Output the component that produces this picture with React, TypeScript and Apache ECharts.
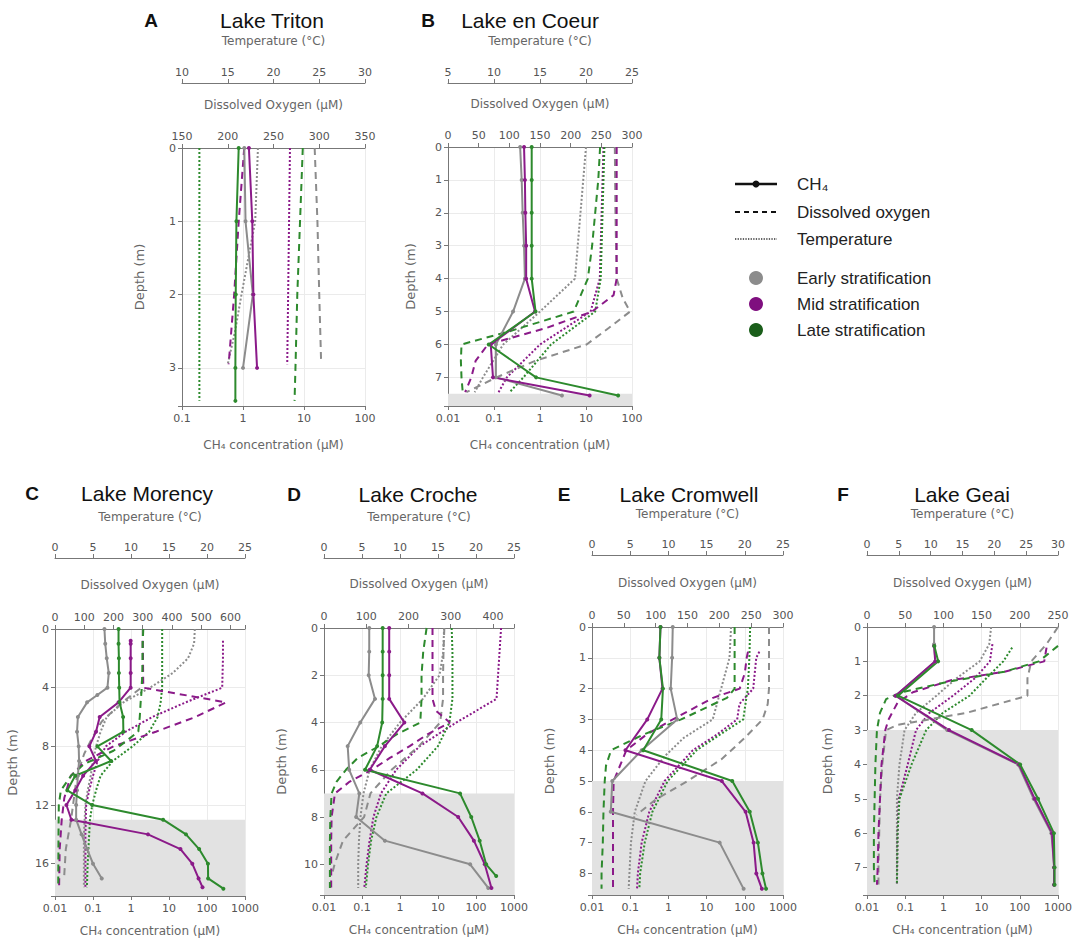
import React, { useEffect, useRef } from 'react';
import * as echarts from 'echarts';

// ---------- Data: [value, depth (m)] ----------
// Panel A – Lake Triton
const A_CH4_E = [[1.05, 0], [1.1, 1], [1.45, 2], [1.0, 3]];
const A_CH4_M = [[1.25, 0], [1.42, 1], [1.48, 2], [1.7, 3]];
const A_CH4_L = [[0.85, 0], [0.78, 1], [0.76, 2], [0.75, 3], [0.75, 3.45]];
const A_DO_E = [[295, 0], [298, 1], [300, 2], [302, 2.9]];
const A_DO_M = [[218, 0], [212, 1], [207, 2], [201, 2.95]];
const A_DO_L = [[282, 0], [279, 1], [276, 2], [274, 3], [273, 3.45]];
const A_T_E = [[18.3, 0], [18.0, 1], [16.5, 2], [15.8, 2.5], [15.0, 2.95]];
const A_T_M = [[21.8, 0], [21.7, 1], [21.6, 2], [21.5, 2.95]];
const A_T_L = [[11.9, 0], [11.9, 3.45]];

// Panel B – Lake en Coeur
const B_CH4_E = [[0.37, 0], [0.4, 1], [0.42, 2], [0.45, 3], [0.47, 4], [0.26, 5], [0.11, 6], [0.11, 7], [3, 7.55]];
const B_CH4_M = [[0.45, 0], [0.47, 1], [0.48, 2], [0.5, 3], [0.5, 4], [0.78, 5], [0.085, 6], [0.095, 7], [12, 7.55]];
const B_CH4_L = [[0.66, 0], [0.66, 1], [0.66, 2], [0.66, 3], [0.66, 4], [0.8, 5], [0.077, 6], [0.82, 7], [50, 7.55]];
const B_DO_E = [[272, 0], [273, 2], [275, 4], [285, 4.6], [297, 5], [262, 5.5], [226, 6], [142, 6.5], [79, 7], [30, 7.45]];
const B_DO_M = [[275, 0], [275, 1], [275, 2], [275, 3], [275, 4], [270, 4.5], [235, 5], [160, 5.5], [65, 6], [45, 6.5], [38, 7], [28, 7.45]];
const B_DO_L = [[248, 0], [245, 1], [240, 2], [235, 3], [228, 4], [205, 5], [100, 5.6], [22, 6], [21, 6.5], [22, 7], [24, 7.45]];
const B_T_E = [[20, 0], [19.7, 1], [19.4, 2], [19.1, 3], [18.8, 4], [15, 5], [11, 6], [8.8, 7], [7.9, 7.45]];
const B_T_M = [[21.9, 0], [21.8, 1], [21.7, 2], [21.6, 3], [21.5, 4], [20.5, 5], [15, 6], [11.4, 7], [10.5, 7.45]];
const B_T_L = [[22, 0], [21.9, 1], [21.8, 2], [21.7, 3], [21.6, 4], [21, 5], [16.2, 6], [13.2, 7], [11.7, 7.45]];

// Panel C – Lake Morency
const C_CH4_E = [[0.2, 0], [0.21, 1], [0.23, 2], [0.26, 3], [0.24, 4], [0.13, 4.5], [0.07, 5], [0.04, 6], [0.038, 7], [0.042, 8], [0.043, 9], [0.04, 10], [0.038, 11], [0.036, 12], [0.036, 13], [0.05, 14], [0.07, 15], [0.1, 16], [0.17, 17]];
const C_CH4_M = [[0.98, 0.8], [0.98, 1], [0.98, 2], [0.98, 3], [0.98, 4], [0.47, 5], [0.15, 6], [0.12, 7], [0.08, 8], [0.12, 9], [0.055, 10], [0.034, 11], [0.02, 12], [0.027, 13], [2.8, 14], [20, 15], [41, 16], [60, 17], [76, 17.6]];
const C_CH4_L = [[0.47, 0], [0.47, 1], [0.48, 2], [0.48, 3], [0.49, 4], [0.5, 5], [0.62, 6], [0.63, 7], [0.13, 8], [0.3, 9], [0.034, 10], [0.021, 11], [0.095, 12], [7, 13], [28, 14], [62, 15], [106, 16], [107, 17], [270, 17.7]];
const C_DO_E = [[300, 0], [300, 3], [295, 4], [230, 5], [160, 6.3], [125, 7.5], [100, 8.5], [75, 10], [55, 13], [37, 15], [31, 17]];
const C_DO_M = [[300, 0.8], [301, 2], [302, 4], [585, 5], [480, 6], [345, 7], [200, 8], [105, 9], [54, 10], [32, 11.5], [23, 13], [16, 15], [14, 17.6]];
const C_DO_L = [[302, 0], [300, 1], [299, 3], [297, 4], [293, 5], [290, 6], [285, 7], [200, 8.3], [100, 9.2], [55, 10], [20, 11], [13, 12], [12, 14], [11, 17.6]];
const C_T_E = [[18.4, 0], [18.3, 1], [17.5, 2], [15.5, 3], [12.5, 4], [9, 5], [6.8, 6], [6, 7], [5.4, 8], [5, 9], [4.7, 10], [4.3, 11], [4, 12], [3.9, 13], [3.8, 14], [3.8, 15], [3.8, 16], [3.8, 17.6]];
const C_T_M = [[22.1, 0.8], [22.1, 2], [22, 4], [17.2, 5], [12.8, 6], [9.3, 7], [6.7, 8], [5.6, 9], [5, 10], [4.5, 11], [4.1, 12], [4, 14], [4, 16], [4, 17.6]];
const C_T_L = [[14.1, 0], [14.1, 2], [14.1, 4], [13.9, 5], [13.5, 6], [12.4, 7], [10.2, 8], [7.6, 9], [6, 10], [5.4, 11], [4.9, 12], [4.6, 13], [4.5, 14], [4.3, 16], [4.2, 17.6]];

// Panel D – Lake Croche
const D_CH4_E = [[0.155, 0], [0.155, 1], [0.15, 2], [0.22, 3], [0.09, 4], [0.042, 5], [0.046, 6], [0.085, 7], [0.07, 8], [0.4, 9], [70, 10], [210, 11]];
const D_CH4_M = [[0.52, 0], [0.52, 1], [0.52, 2], [0.52, 3], [1.3, 4], [0.4, 5], [0.16, 6], [3.9, 7], [34, 8], [88, 9], [170, 10], [255, 11]];
const D_CH4_L = [[0.35, 0], [0.35, 1], [0.35, 2], [0.35, 3], [0.34, 4], [0.25, 5], [0.12, 6], [38, 7], [75, 8], [125, 9], [185, 10], [340, 10.5]];
const D_DO_E = [[285, 0], [283, 1], [282, 2], [282, 3], [275, 4], [225, 5], [160, 6], [110, 7], [95, 8], [45, 9], [25, 10], [18, 10.5]];
const D_DO_M = [[257, 0], [257, 1], [257, 2], [257, 3], [265, 3.5], [298, 4], [245, 4.5], [203, 5], [156, 5.5], [113, 6], [61, 6.5], [26, 7], [18, 8], [17, 9], [17, 10], [17, 11]];
const D_DO_L = [[243, 0], [235, 1], [231, 2], [231, 3], [228, 4], [172, 4.5], [130, 5], [80, 5.5], [52, 6], [30, 6.5], [18, 7], [15, 8], [14, 9], [14, 10], [14, 11]];
const D_T_E = [[15.8, 0], [15.7, 1], [15.2, 2], [13, 3], [10, 4], [7.6, 5], [6, 6], [5.2, 7], [4.8, 8], [4.6, 9], [4.5, 10], [4.5, 11]];
const D_T_M = [[23.3, 0], [23.1, 1], [22.9, 2], [22.7, 3], [17.4, 4], [12.6, 5], [9.5, 6], [7.5, 7], [6.5, 8], [6, 9], [5.6, 10], [5.3, 11]];
const D_T_L = [[16.8, 0], [16.9, 1], [16.9, 2], [16.9, 3], [16.5, 4], [15, 5], [12.2, 6], [8.2, 7], [6.9, 8], [6.2, 9], [5.8, 10], [5.5, 11]];

// Panel E – Lake Cromwell
const E_CH4_E = [[1.3, 0], [1.25, 1], [1.15, 2], [1.7, 3], [0.2, 4], [0.034, 5], [0.031, 6], [22, 7], [93, 8.5]];
const E_CH4_M = [[0.62, 0], [0.58, 1], [0.7, 2], [0.28, 3], [0.075, 4], [25, 5], [105, 6], [170, 7], [200, 8], [280, 8.5]];
const E_CH4_L = [[0.62, 0], [0.58, 1], [0.72, 2], [0.65, 3], [0.22, 4], [47, 5], [135, 6], [220, 7], [290, 8], [360, 8.5]];
const E_DO_E = [[278, 0], [278, 1], [278, 2], [276, 2.5], [268, 3], [240, 3.6], [203, 4.3], [150, 5], [100, 5.6], [70, 6.1]];
const E_DO_M = [[245, 0.8], [243, 1], [240, 1.5], [232, 2], [190, 2.3], [127, 3], [85, 3.5], [54, 4], [34, 5], [33, 6], [33, 7], [33, 8], [33, 8.5]];
const E_DO_L = [[224, 0], [224, 1], [224, 2], [212, 2.3], [140, 3], [80, 3.5], [30, 4], [22, 4.5], [20, 5], [18, 6], [17, 7], [15, 8], [15, 8.5]];
const E_T_E = [[18.2, 0], [18, 1], [16.9, 2], [15.8, 3], [12, 3.6], [9.5, 4.2], [7, 5], [5.6, 6], [5.1, 7], [4.9, 8], [4.8, 8.5]];
const E_T_M = [[21.9, 0.8], [21.5, 1], [21.1, 2], [19.3, 2.5], [19, 3], [16.3, 3.5], [13.2, 4], [9.5, 5], [7.5, 6], [6.5, 7], [6, 8], [5.9, 8.5]];
const E_T_L = [[20.7, 0], [20.6, 1], [20.4, 2], [20.2, 2.3], [19.8, 3], [16.7, 3.5], [13.7, 4], [9.9, 5], [7.9, 6], [6.9, 7], [6.3, 8], [6.2, 8.5]];

// Panel F – Lake Geai
const F_CH4_E = [[0.57, 0], [0.57, 0.5], [0.62, 1], [0.056, 2], [1.26, 3], [90, 4], [230, 5], [670, 6], [800, 7], [800, 7.5]];
const F_CH4_M = [[0.57, 0.55], [0.61, 1], [0.056, 2], [1.4, 3], [95, 4], [245, 5], [700, 6], [790, 7], [790, 7.5]];
const F_CH4_L = [[0.58, 0.55], [0.73, 1], [0.065, 2], [5.5, 3], [102, 4], [300, 5], [780, 6], [810, 7], [810, 7.5]];
const F_DO_E = [[250, 0], [235, 0.5], [215, 1], [210, 1.5], [210, 2], [130, 2.5], [40, 2.85], [25, 3], [20, 4], [17, 5], [16, 6], [15, 7], [15, 7.5]];
const F_DO_M = [[235, 0.6], [232, 1], [180, 1.3], [110, 1.55], [60, 1.9], [40, 2.2], [28, 2.7], [24, 3], [19, 4], [17, 5], [15, 6], [14, 7], [13, 7.5]];
const F_DO_L = [[250, 0.55], [225, 1], [180, 1.3], [105, 1.6], [45, 1.9], [25, 2.1], [17, 2.5], [13, 3], [11, 4], [10, 5], [9, 6], [9, 7], [10, 7.5]];
const F_T_E = [[19.5, 0], [19.2, 0.5], [17.7, 1], [14, 1.5], [10.9, 2], [7.7, 2.5], [5.9, 3], [5.1, 4], [4.7, 5], [4.7, 6], [4.7, 7.5]];
const F_T_M = [[19.7, 0.5], [19.3, 1], [16.9, 1.5], [13.5, 2], [9.8, 2.5], [7.7, 3], [6.4, 4], [5, 5], [4.8, 6], [4.7, 7.5]];
const F_T_L = [[22.8, 0.6], [21.4, 1], [18.7, 1.5], [16.1, 2], [11.9, 2.5], [9.3, 3], [7, 4], [5.1, 5], [4.8, 6], [4.7, 7.5]];

// Anoxic (shaded) layer start depths
const SHADE_FROM = { A: null, B: 7.5, C: 13, D: 7, E: 5, F: 3 } as Record<string, number | null>;

const STAGES = ['Early stratification', 'Mid stratification', 'Late stratification'];
const LEGEND_VARS = ['CH₄', 'Dissolved oxygen', 'Temperature'];

// ---------- Styling ----------
const LINE_COLORS = ['#8c8c8c', '#8b1a89', '#2d8a2d'];
const DOT_COLORS = ['#8c8c8c', '#7f0f7f', '#1a5e1a'];
const TICK_FONT = "'DejaVu Sans', Verdana, sans-serif";
const SANS = "'Liberation Sans', Arial, sans-serif";

const TOP_GAPS = { t: 36, d: 37, c: 33 };
const BOT_GAPS = { t: 35, d: 38, c: 29 };

const PANELS = [
  { letter: 'A', title: 'Lake Triton', lx: 151, tx: 272, ty: 20, grid: { left: 182, top: 148, width: 183, height: 258 }, ymax: 3.52, ystep: 1, ch4: [0.1, 100], dox: [150, 350, 50], tt: [10, 30, 5], tOff: 65, yGap: 36, gaps: TOP_GAPS,
    ch4d: [A_CH4_E, A_CH4_M, A_CH4_L], dod: [A_DO_E, A_DO_M, A_DO_L], td: [A_T_E, A_T_M, A_T_L] },
  { letter: 'B', title: 'Lake en Coeur', lx: 428, tx: 530, ty: 20, grid: { left: 448, top: 147, width: 184, height: 259 }, ymax: 7.87, ystep: 1, ch4: [0.01, 100], dox: [0, 300, 50], tt: [5, 25, 5], tOff: 64, yGap: 31, gaps: TOP_GAPS,
    ch4d: [B_CH4_E, B_CH4_M, B_CH4_L], dod: [B_DO_E, B_DO_M, B_DO_L], td: [B_T_E, B_T_M, B_T_L] },
  { letter: 'C', title: 'Lake Morency', lx: 32, tx: 147, ty: 493, grid: { left: 55, top: 629, width: 190, height: 267 }, ymax: 18.2, ystep: 4, ch4: [0.01, 1000], dox: [0, 650, 100], tt: [0, 25, 5], tOff: 71, yGap: 36, gaps: BOT_GAPS,
    ch4d: [C_CH4_E, C_CH4_M, C_CH4_L], dod: [C_DO_E, C_DO_M, C_DO_L], td: [C_T_E, C_T_M, C_T_L] },
  { letter: 'D', title: 'Lake Croche', lx: 294, tx: 418, ty: 494, grid: { left: 324, top: 628, width: 190, height: 267 }, ymax: 11.3, ystep: 2, ch4: [0.01, 1000], dox: [0, 450, 100], tt: [0, 25, 5], tOff: 70, yGap: 36, gaps: BOT_GAPS,
    ch4d: [D_CH4_E, D_CH4_M, D_CH4_L], dod: [D_DO_E, D_DO_M, D_DO_L], td: [D_T_E, D_T_M, D_T_L] },
  { letter: 'E', title: 'Lake Cromwell', lx: 564, tx: 689, ty: 494, grid: { left: 592, top: 627, width: 191, height: 268 }, ymax: 8.7, ystep: 1, ch4: [0.01, 1000], dox: [0, 300, 50], tt: [0, 25, 5], tOff: 72, yGap: 36, gaps: BOT_GAPS,
    ch4d: [E_CH4_E, E_CH4_M, E_CH4_L], dod: [E_DO_E, E_DO_M, E_DO_L], td: [E_T_E, E_T_M, E_T_L] },
  { letter: 'F', title: 'Lake Geai', lx: 843, tx: 962, ty: 494, grid: { left: 867, top: 627, width: 191, height: 268 }, ymax: 7.8, ystep: 1, ch4: [0.01, 1000], dox: [0, 250, 50], tt: [0, 30, 5], tOff: 72, yGap: 33, gaps: BOT_GAPS,
    ch4d: [F_CH4_E, F_CH4_M, F_CH4_L], dod: [F_DO_E, F_DO_M, F_DO_L], td: [F_T_E, F_T_M, F_T_L] },
];

const fmtLog = (v: number) => (v >= 1 ? String(Math.round(v)) : String(parseFloat(v.toPrecision(2))));
const fmtStep = (step: number) => (v: number) =>
  Math.abs(v / step - Math.round(v / step)) < 1e-6 ? String(Math.round(v * 1000) / 1000) : '';

const axisLineStyle = { show: true, onZero: false, lineStyle: { color: '#777', width: 1 } };
const tickStyle = { show: true, length: 4, lineStyle: { color: '#777' } };
const labelStyle = { color: '#555', fontSize: 11, fontFamily: TICK_FONT };
const nameStyle = { color: '#666', fontSize: 12, fontFamily: TICK_FONT };

function buildOption() {
  const grid: any[] = [];
  const xAxis: any[] = [];
  const yAxis: any[] = [];
  const series: any[] = [];
  const graphic: any[] = [];

  PANELS.forEach((p, i) => {
    grid.push({ ...p.grid });
    // CH4 log axis (bottom)
    xAxis.push({
      gridIndex: i, type: 'log', logBase: 10, min: p.ch4[0], max: p.ch4[1], position: 'bottom',
      name: 'CH₄ concentration (µM)', nameLocation: 'middle', nameGap: p.gaps.c, nameTextStyle: nameStyle,
      axisLine: axisLineStyle, axisTick: tickStyle,
      axisLabel: { ...labelStyle, formatter: fmtLog, margin: 7 },
      splitLine: { show: true, lineStyle: { color: '#ebebeb' } },
    });
    // Dissolved oxygen (top)
    xAxis.push({
      gridIndex: i, type: 'value', min: p.dox[0], max: p.dox[1], interval: p.dox[2], position: 'top',
      name: 'Dissolved Oxygen (µM)', nameLocation: 'middle', nameGap: p.gaps.d, nameTextStyle: nameStyle,
      axisLine: axisLineStyle, axisTick: tickStyle,
      axisLabel: { ...labelStyle, formatter: fmtStep(p.dox[2]), margin: 6 },
      splitLine: { show: false },
    });
    // Temperature (top, offset)
    xAxis.push({
      gridIndex: i, type: 'value', min: p.tt[0], max: p.tt[1], interval: p.tt[2], position: 'top', offset: p.tOff,
      name: 'Temperature (°C)', nameLocation: 'middle', nameGap: p.gaps.t, nameTextStyle: nameStyle,
      axisLine: axisLineStyle, axisTick: tickStyle,
      axisLabel: { ...labelStyle, formatter: fmtStep(p.tt[2]), margin: 5 },
      splitLine: { show: false },
    });
    yAxis.push({
      gridIndex: i, type: 'value', inverse: true, min: 0, max: p.ymax, interval: p.ystep,
      name: 'Depth (m)', nameLocation: 'middle', nameGap: p.yGap, nameRotate: 90,
      nameTextStyle: { ...nameStyle, fontSize: 13 },
      axisLine: axisLineStyle, axisTick: tickStyle,
      axisLabel: { ...labelStyle, formatter: fmtStep(p.ystep), margin: 6 },
      splitLine: { show: true, lineStyle: { color: '#ebebeb' } },
    });

    const shadeFrom = SHADE_FROM[p.letter];
    [0, 1, 2].forEach((s) => {
      const col = LINE_COLORS[s];
      const tSeries: any = {
        type: 'line', xAxisIndex: i * 3 + 2, yAxisIndex: i, data: p.td[s], showSymbol: false, silent: true,
        lineStyle: { color: col, width: 2, type: [2, 2] }, z: 3,
      };
      if (s === 0 && shadeFrom != null) {
        tSeries.markArea = {
          silent: true, itemStyle: { color: '#e2e2e2' },
          data: [[{ yAxis: shadeFrom }, { yAxis: p.ymax }]],
        };
      }
      series.push(tSeries);
      series.push({
        type: 'line', xAxisIndex: i * 3 + 1, yAxisIndex: i, data: p.dod[s], showSymbol: false, silent: true,
        lineStyle: { color: col, width: 2, type: [7, 5] }, z: 4,
      });
      series.push({
        type: 'line', xAxisIndex: i * 3, yAxisIndex: i, data: p.ch4d[s], showSymbol: true, symbol: 'circle', symbolSize: 4,
        silent: true, itemStyle: { color: col }, lineStyle: { color: col, width: 2 }, z: 5,
      });
    });

    graphic.push({
      type: 'text', x: p.lx, y: p.ty, silent: true,
      style: { text: p.letter, fill: '#111', font: `bold 19px ${SANS}`, textAlign: 'center', textVerticalAlign: 'middle' },
    });
    graphic.push({
      type: 'text', x: p.tx, y: p.ty, silent: true,
      style: { text: p.title, fill: '#111', font: `21px ${SANS}`, textAlign: 'center', textVerticalAlign: 'middle' },
    });
  });

  // Legend (drawn)
  const LX1 = 735, LX2 = 777, TX = 797;
  const rowsY = [184, 212, 239];
  graphic.push({ type: 'line', silent: true, shape: { x1: LX1, y1: rowsY[0], x2: LX2, y2: rowsY[0] }, style: { stroke: '#111', lineWidth: 2.5 } });
  graphic.push({ type: 'circle', silent: true, shape: { cx: (LX1 + LX2) / 2, cy: rowsY[0], r: 3.5 }, style: { fill: '#111' } });
  graphic.push({ type: 'line', silent: true, shape: { x1: LX1, y1: rowsY[1], x2: LX2, y2: rowsY[1] }, style: { stroke: '#111', lineWidth: 1.8, lineDash: [5, 4] } });
  graphic.push({ type: 'line', silent: true, shape: { x1: LX1, y1: rowsY[2], x2: LX2, y2: rowsY[2] }, style: { stroke: '#333', lineWidth: 1.5, lineDash: [1.3, 1.3] } });
  LEGEND_VARS.forEach((t, k) => {
    graphic.push({
      type: 'text', x: TX, y: rowsY[k], silent: true,
      style: { text: t, fill: '#222', font: `17px ${SANS}`, textAlign: 'left', textVerticalAlign: 'middle' },
    });
  });
  const dotY = [278, 304, 330];
  STAGES.forEach((t, k) => {
    graphic.push({ type: 'circle', silent: true, shape: { cx: 756, cy: dotY[k], r: 7 }, style: { fill: DOT_COLORS[k] } });
    graphic.push({
      type: 'text', x: TX, y: dotY[k], silent: true,
      style: { text: t, fill: '#222', font: `17px ${SANS}`, textAlign: 'left', textVerticalAlign: 'middle' },
    });
  });

  return {
    animation: false,
    backgroundColor: '#ffffff',
    grid, xAxis, yAxis, series, graphic,
  };
}

export default function App() {
  const ref = useRef<HTMLDivElement>(null);
  useEffect(() => {
    document.body.style.margin = '0';
    if (!ref.current) return;
    const chart = echarts.init(ref.current, undefined, { renderer: 'svg' });
    chart.setOption(buildOption() as any);
    return () => chart.dispose();
  }, []);
  return <div ref={ref} style={{ width: 1076, height: 950, position: 'absolute', left: 0, top: 0 }} />;
}
